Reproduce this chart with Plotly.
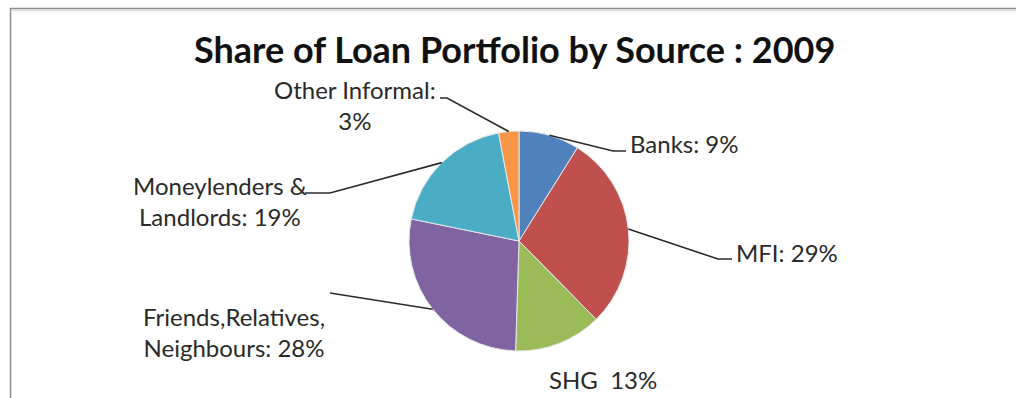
import math
import plotly.graph_objects as go

# Loan portfolio shares by source, 2009 (percent)
sources = ["Banks", "MFI", "SHG", "Friends,Relatives, Neighbours",
           "Moneylenders & Landlords", "Other Informal"]
shares = [9, 29, 13, 28, 19, 3]
label_texts = ["Banks: 9%", "MFI: 29%", "SHG  13%",
               "Friends,Relatives,<br>Neighbours: 28%",
               "Moneylenders &<br>Landlords: 19%",
               "Other Informal:<br>3%"]
colors = ["#4F81BD", "#C0504D", "#9BBB59", "#8064A2", "#4BACC6", "#F79646"]

W, H = 1016, 398
CX, CY, R = 519, 241, 110  # pie centre and radius in pixels


def px(x):
    return x / W


def py(y):
    return 1 - y / H


fig = go.Figure()
fig.add_trace(go.Pie(
    labels=sources,
    values=shares,
    sort=False,
    direction="clockwise",
    rotation=0,
    marker=dict(colors=colors, line=dict(color="#e8e8e8", width=1)),
    textinfo="none",
    hoverinfo="label+percent",
    showlegend=False,
    domain=dict(x=[px(CX - R), px(CX + R)], y=[py(CY + R), py(CY - R)]),
))

# anchor point of each slice on the rim, at its mid angle
total = sum(shares)
anchors = []
acc = 0
for v in shares:
    mid = (acc + v / 2) / total * 2 * math.pi
    anchors.append((CX + R * math.sin(mid), CY - R * math.cos(mid)))
    acc += v

# label placement: (x, y, xanchor), plus leader elbow / end points
label_pos = {
    "Banks": (628, 143, "left"),
    "MFI": (734, 252, "left"),
    "SHG": (603, 379, "center"),
    "Friends,Relatives, Neighbours": (234, 332, "center"),
    "Moneylenders & Landlords": (220, 201, "center"),
    "Other Informal": (355, 105, "center"),
}
leaders = {
    "Banks": [(613, 151), (626, 151)],
    "MFI": [(718, 259), (732, 259)],
    "Friends,Relatives, Neighbours": [(330, 293)],
    "Moneylenders & Landlords": [(330, 193), (305, 193)],
    "Other Informal": [(447, 98), (440, 98)],
}

annotations = [dict(
    text="<b>Share of Loan Portfolio by Source : 2009</b>",
    x=px(514), y=py(49), xref="paper", yref="paper",
    xanchor="center", yanchor="middle", showarrow=False,
    font=dict(family="Lato", size=36, color="#111111"),
)]
for name, txt in zip(sources, label_texts):
    x, y, xa = label_pos[name]
    annotations.append(dict(
        text=txt, x=px(x), y=py(y), xref="paper", yref="paper",
        xanchor=xa, yanchor="middle", showarrow=False, align="center",
        font=dict(family="Lato", size=24, color="#2a2a2a"),
    ))

shapes = []
for name, (ax, ay) in zip(sources, anchors):
    if name not in leaders:
        continue
    pts = [(ax, ay)] + leaders[name]
    path = "M " + " L ".join(f"{px(x):.5f},{py(y):.5f}" for x, y in pts)
    shapes.append(dict(type="path", path=path, xref="paper", yref="paper",
                       line=dict(color="#2b2b2b", width=1.6)))

# chart frame
shapes.append(dict(type="rect", xref="paper", yref="paper",
                   x0=px(10.5), x1=px(1030), y0=py(420), y1=py(8.5),
                   line=dict(color="#8c8c8c", width=1.5), layer="below"))
shapes.append(dict(type="line", xref="paper", yref="paper",
                   x0=px(12), x1=px(1016), y0=py(10.5), y1=py(10.5),
                   line=dict(color="#dcdcdc", width=1.5), layer="below"))

fig.update_layout(
    width=W, height=H,
    margin=dict(l=0, r=0, t=0, b=0),
    paper_bgcolor="white",
    plot_bgcolor="white",
    annotations=annotations,
    shapes=shapes,
)

fig.write_html("out.html")
